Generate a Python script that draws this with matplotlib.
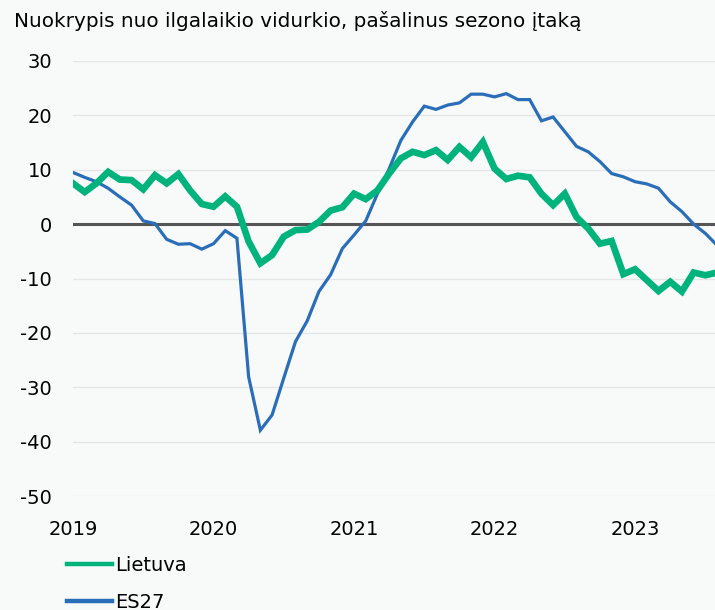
import matplotlib
matplotlib.use("Agg")
import matplotlib.pyplot as plt
from matplotlib.lines import Line2D
import numpy as np

title = "Nuokrypis nuo ilgalaikio vidurkio, pašalinus sezono įtaką"
series_names = ["Lietuva", "ES27"]
year_labels = ["2019", "2020", "2021", "2022", "2023"]
yticks = [30, 20, 10, 0, -10, -20, -30, -40, -50]

# Monthly values, Jan 2019 - Aug 2023
lietuva = [7.5, 5.9, 7.5, 9.6, 8.2, 8.1, 6.4, 9.0, 7.5, 9.2, 6.2, 3.7,
           3.2, 5.1, 3.2, -3.2, -7.2, -5.7, -2.3, -1.1, -1.0, 0.4, 2.5, 3.1,
           5.6, 4.6, 6.2, 9.3, 12.1, 13.3, 12.7, 13.6, 11.8, 14.2, 12.3, 15.1,
           10.2, 8.3, 8.9, 8.6, 5.6, 3.5, 5.6, 1.3, -0.8, -3.6, -3.1, -9.2,
           -8.3, -10.3, -12.3, -10.6, -12.4, -8.9, -9.4, -8.9]
es27 = [9.5, 8.6, 7.8, 6.6, 5.0, 3.5, 0.6, 0.1, -2.8, -3.7, -3.6, -4.6,
        -3.6, -1.2, -2.6, -28.1, -37.9, -35.1, -28.3, -21.6, -17.8, -12.4, -9.3, -4.5,
        -2.0, 0.6, 5.6, 10.2, 15.4, 18.8, 21.7, 21.1, 21.9, 22.3, 23.9, 23.9,
        23.4, 24.0, 22.9, 22.9, 19.0, 19.7, 17.0, 14.3, 13.3, 11.5, 9.3, 8.7,
        7.8, 7.4, 6.6, 4.1, 2.3, 0.0, -1.7, -3.9]

green = "#00b37c"
blue = "#2a6db8"

W, H = 715, 610
fig = plt.figure(figsize=(W / 100, H / 100), dpi=100)
fig.patch.set_facecolor("#f8fafa")

left, right = 73 / W, 1.0
top, bottom = 1 - 61 / H, 1 - 496 / H
ax = fig.add_axes([left, bottom, right - left, top - bottom])
ax.set_facecolor("none")

months = np.arange(len(lietuva))
ax.set_xlim(0, (715 - 73) / 11.71)
ax.set_ylim(-50, 30)

for y in yticks:
    if y != 0:
        ax.axhline(y, color="#e4e7e7", lw=1, zorder=0)
ax.axhline(0, color="#555555", lw=2.2, zorder=1)

ax.plot(months, es27, color=blue, lw=2.3, zorder=2, solid_joinstyle="miter")
ax.plot(months, lietuva, color=green, lw=4.8, zorder=3, solid_joinstyle="miter")

for s in ax.spines.values():
    s.set_visible(False)
ax.set_yticks(yticks)
ax.set_yticklabels([str(v) for v in yticks])
ax.set_xticks([0, 12, 24, 36, 48])
ax.set_xticklabels(year_labels)
ax.tick_params(axis="both", length=0, labelsize=14, colors="black")
ax.tick_params(axis="y", pad=15)
ax.tick_params(axis="x", pad=17)

fig.text(14 / W, 1 - 21 / H, title, fontsize=14.4, va="center", ha="left")

handles = [Line2D([0], [0], color=green, lw=3.2),
           Line2D([0], [0], color=blue, lw=3.2)]
fig.legend(handles, series_names, loc="upper left",
           bbox_to_anchor=(67 / W, 1 - 556 / H), frameon=False, fontsize=14,
           handlelength=2.3, handletextpad=0.15, labelspacing=0.92,
           borderpad=0, borderaxespad=0)

fig.savefig("out.png", dpi=100, facecolor=fig.get_facecolor())
